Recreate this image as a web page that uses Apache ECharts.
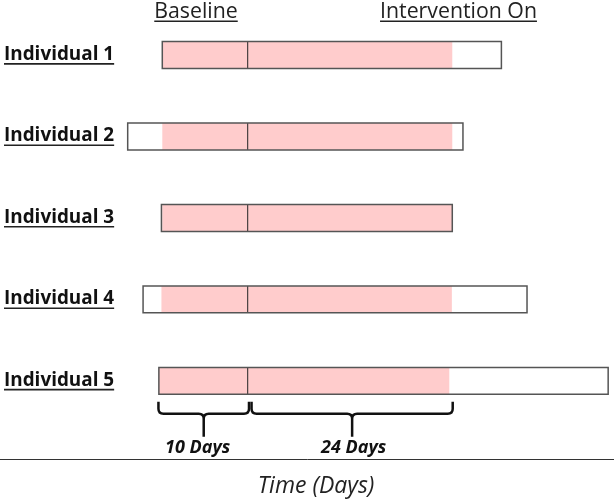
<!DOCTYPE html>
<html>
<head>
<meta charset="utf-8">
<script src="https://cdn.jsdelivr.net/npm/echarts@6/dist/echarts.min.js"></script>
<style>html,body{margin:0;padding:0;background:#fff}#c{width:614px;height:500px}</style>
</head>
<body>
<div id="c"></div>
<script>
// ---- data (days, relative to start of baseline) ----
const categories = ['Individual 1', 'Individual 2', 'Individual 3', 'Individual 4', 'Individual 5'];
const obsStart = [0, -4.05, -0.1, -2.25, -0.4];
const obsEnd = [39.7, 35.2, 33.95, 42.7, 52.2];
const baselineStart = [0, 0, 0, -0.1, -0.4];
const interventionStart = [10, 10, 10, 10, 10];
const interventionEnd = [33.95, 33.95, 33.95, 33.9, 33.6];
const phaseLabels = ['10 Days', '24 Days'];
const phaseFrom = [-0.45, 10.45];
const phaseTo = [10.15, 34.0];
const headerLabels = ['Baseline', 'Intervention On'];
const axisTitle = 'Time (Days)';

const FONT = '"Open Sans", "Noto Sans", sans-serif';
const mctx = document.createElement('canvas').getContext('2d');
function textW(font, s) { mctx.font = font; return mctx.measureText(s).width; }

const chart = echarts.init(document.getElementById('c'), null, { renderer: 'canvas' });

const labelFont = 'bold 18.9px ' + FONT;
const headerFont = '21.3px ' + FONT;
const braceFont = 'italic bold 18px ' + FONT;
const braceShift = [-6, 1.5];

function renderIndividual(params, api) {
  const i = api.value(0);
  const y = api.coord([0, i])[1];
  const band = api.size([0, 1])[1];
  const h = band * 0.33;
  const top = y - h / 2;
  const x0 = api.coord([api.value(1), i])[0];
  const x1 = api.coord([api.value(2), i])[0];
  const p0 = api.coord([api.value(3), i])[0];
  const pd = api.coord([api.value(4), i])[0];
  const p1 = api.coord([api.value(5), i])[0];
  const name = categories[i];
  const w = textW(labelFont, name);
  return {
    type: 'group',
    children: [
      { type: 'rect', shape: { x: x0, y: top, width: x1 - x0, height: h }, style: { fill: '#ffffff' } },
      { type: 'rect', shape: { x: p0, y: top, width: p1 - p0, height: h }, style: { fill: '#ffcccc' } },
      { type: 'line', shape: { x1: pd, y1: top, x2: pd, y2: top + h }, style: { stroke: '#222', lineWidth: 1 } },
      { type: 'rect', shape: { x: x0, y: top, width: x1 - x0, height: h }, style: { fill: 'none', stroke: '#555', lineWidth: 1.5 } },
      { type: 'text', style: { text: name, x: 4, y: y - 0.5, font: labelFont, fill: '#111', align: 'left', verticalAlign: 'middle', textAlign: 'left', textVerticalAlign: 'middle' } },
      { type: 'rect', shape: { x: 4, y: y + 8, width: w, height: 1.6 }, style: { fill: '#222' } }
    ]
  };
}

function renderBrace(params, api) {
  const last = categories.length - 1;
  const yc = api.coord([0, last])[1];
  const xa = api.coord([api.value(0), last])[0];
  const xb = api.coord([api.value(1), last])[0];
  const xc = (xa + xb) / 2;
  const yT = yc + 21, yM = yc + 33, yB = yc + 56, r = 5;
  const d = 'M' + xa + ' ' + yT + ' L' + xa + ' ' + (yM - r) + ' Q' + xa + ' ' + yM + ' ' + (xa + r) + ' ' + yM +
    ' L' + (xc - r) + ' ' + yM + ' Q' + xc + ' ' + yM + ' ' + xc + ' ' + (yM + r) + ' L' + xc + ' ' + yB +
    ' M' + xb + ' ' + yT + ' L' + xb + ' ' + (yM - r) + ' Q' + xb + ' ' + yM + ' ' + (xb - r) + ' ' + yM +
    ' L' + (xc + r) + ' ' + yM + ' Q' + xc + ' ' + yM + ' ' + xc + ' ' + (yM + r);
  return {
    type: 'group',
    children: [
      { type: 'path', shape: { pathData: d }, style: { fill: 'none', stroke: '#111', lineWidth: 2.5 } },
      { type: 'text', style: { text: phaseLabels[params.dataIndex], x: xc + braceShift[params.dataIndex], y: yc + 67.5, font: braceFont, fill: '#111', align: 'center', verticalAlign: 'middle', textAlign: 'center', textVerticalAlign: 'middle' } }
    ]
  };
}

const headerX = [196, 458.5];
const graphics = [];
headerLabels.forEach((t, k) => {
  const w = textW(headerFont, t);
  graphics.push({ type: 'text', style: { text: t, x: headerX[k], y: 11.5, font: headerFont, fill: '#222', align: 'center', verticalAlign: 'middle', textAlign: 'center', textVerticalAlign: 'middle' } });
  graphics.push({ type: 'rect', shape: { x: headerX[k] - w / 2, y: 20.6, width: w, height: 1.5 }, style: { fill: '#222' } });
});

chart.setOption({
  animation: false,
  grid: { left: 0, width: 615, top: 14.3, height: 407.3, containLabel: false, outerBoundsMode: 'none' },
  xAxis: {
    type: 'value', min: -19, max: 53, offset: 37.4,
    axisLine: { show: true, onZero: false, lineStyle: { color: '#333', width: 1 } },
    axisTick: { show: false }, axisLabel: { show: false }, splitLine: { show: false },
    name: axisTitle, nameLocation: 'middle', nameGap: 16,
    nameTextStyle: { fontFamily: FONT, fontStyle: 'italic', fontSize: 23, color: '#222', padding: [0, 0, 0, 17] }
  },
  yAxis: { type: 'category', data: categories, inverse: true, show: false },
  graphic: graphics,
  series: [
    {
      type: 'custom', name: 'individuals', clip: false,
      renderItem: renderIndividual,
      encode: { x: [1, 2], y: 0 },
      data: categories.map((c, i) => [i, obsStart[i], obsEnd[i], baselineStart[i], interventionStart[i], interventionEnd[i]])
    },
    {
      type: 'custom', name: 'phases', clip: false,
      renderItem: renderBrace,
      encode: { x: [0, 1] },
      data: phaseLabels.map((l, k) => [phaseFrom[k], phaseTo[k]])
    }
  ]
});
</script>
</body>
</html>
